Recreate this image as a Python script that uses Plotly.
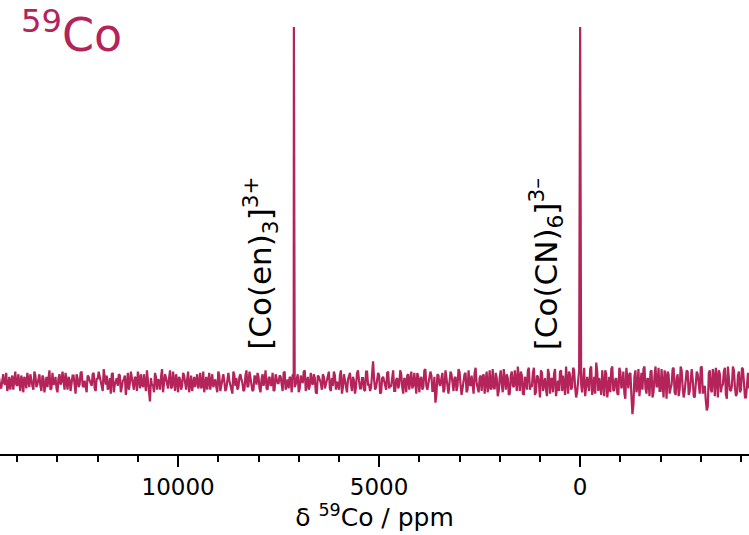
import plotly.graph_objects as go

# ---------------- data ----------------
ppm_start = 14450
ppm_step = 50
# intensities on the 50 ppm grid (ppm_start, ppm_start-50, ...)
noise_a = [
    3,-5,6,-2,-7,4,1,-6,8,-3,-1,5,-8,2,7,-4,0,-6,5,-2,
    6,-7,3,1,-4,9,-5,-2,4,-8,6,0,-3,7,-6,2,-1,5,-9,3,
    -2,8,-4,-6,5,1,-3,7,-7,2,4,-5,10,-2,-6,3,6,-8,1,-3,
    5,-4,2,-10,7,-1,4,-6,3,8,-5,-2,6,-7,1,-15,-3,-8,4,2,
    -6,10,-1,3,-5,9,-4,0,6,-8,2,-3,5,-6,8,-2,-7,4,1,-5,
    7,-3,-8,4,2,-6,6,-1,-4,8,-7,3,0,-5,7,-2,-9,5,3,-4,
    6,-1,-6,9,-3,2,-7,5,-2,4,-8,6,1,-5,3,-3,7,-6,2,-1,
    4,-7,8,-2,-5,3,6,-4,1,-8,5,-1,9,-3,-6,7,-2,3,-9,4,
    -1,6,-5,2,8,-7,-3,5,0,-6,9,-4,2,-8,6,-2,4,-9,7,1,
    -5,3,-7,8,-2,-4,16,-6,2,5,-8,4,-1,7,-5,-3,9,-7,3,-2,
    6,-9,2,5,-6,8,-3,-1,7,-8,4,-4,10,-6,1,5,-7,-16,6,-2,
    3,-8,9,-5,-1,6,-7,4,-3,8,-10,2,7,-6,-2,5,-9,11,-4,3,
    -7,6,1,-8,9,-3,-5,7,-11,4,-2,10,-6,3,-9,8,-4,-1,12,-7,
    5,-10,2,9,-6,-3,11,-8,4,-12,7,-2,-6,10,-9,3,6,-11,1,8,
    -7,-3,12,-9,5,-4,9,-12,2,7,-8,11,-5,-2,10,-10,4,15,-7,-3,
    9,-11,6,-4,-8,12,-6,3,-10,8,-2,-9,11,-5,7,-25,4,-8,10,-3,
    -6,12,-9,2,8,-12,5,-4,11,-7,-2,9,-13,6,-5,10,-8,3,-11,12,
    -4,-7,9,-10,6,2,-12,8,-5,11,-9,-3,-22,7,-6,10,-11,4,9,-8,
    -2,11,-13,5,-7,12,-4,-9,8,-6,10,-12,3,-5,
]
# intensities half way between (ppm_start-25, ppm_start-75, ...)
noise_b = [
    -4,2,-1,7,-3,-6,5,3,-2,6,-7,1,4,-5,-1,6,-3,8,-4,1,
    -3,5,-8,4,2,-6,7,-1,-5,3,-2,8,-6,1,4,-7,5,-2,6,-4,
    7,-3,1,-8,4,-2,6,-5,3,8,-1,-7,2,5,-4,-9,7,-2,3,6,
    -8,1,5,-3,-6,8,-2,4,-7,2,6,-4,-1,9,-5,3,-2,7,-6,1,
    4,-8,6,-2,3,-5,8,-7,1,4,-6,7,-3,2,-8,5,1,-4,6,-2,
    -5,8,-1,-6,7,3,-4,2,-8,5,-2,6,-7,3,1,-5,8,-3,-6,4,
    2,-7,5,-4,8,-1,-6,3,7,-5,2,-3,9,-6,4,-2,-7,6,-1,5,
    -3,7,-6,2,4,-8,3,-2,6,-5,1,8,-7,4,-3,-1,6,-8,5,2,
    -6,4,-2,7,-5,3,8,-6,-1,5,-9,6,-3,2,7,-7,1,-4,9,-5,
    3,-6,8,-2,-7,5,2,-4,7,-9,3,1,-6,8,-3,5,-7,2,-5,9,
    -4,3,-8,6,1,-5,7,-9,4,2,-6,9,-3,-1,8,-7,4,-10,5,-3,
    7,-6,2,-9,8,-4,3,-7,10,-2,-5,6,-8,9,-3,-6,7,-1,-8,5,
    4,-9,8,-2,-6,10,-5,3,-7,9,-8,2,6,-10,5,-3,9,-7,-2,8,
    -9,4,-6,11,-3,7,-10,5,-1,9,-7,3,-11,6,2,-8,10,-4,-7,9,
    5,-10,3,8,-6,11,-4,-8,9,-2,6,-11,4,-7,12,-5,-9,8,3,-10,
    -6,9,-12,4,10,-7,2,-9,11,-5,8,-13,3,6,-10,-18,9,-4,-11,7,
    10,-5,3,-11,9,-8,12,-3,-7,10,-12,4,8,-9,-2,11,-10,6,-6,9,
    -12,5,8,-7,10,-11,3,6,-9,12,-5,-14,-19,9,-8,4,11,-12,6,-3,
    8,-10,12,-6,-3,9,-11,5,-8,11,-4,-12,7,
]
peak_ppm = [7120, 0]
peak_height = [275, 275]
peak_labels = ["[Co(en)<sub>3</sub>]<sup>3+</sup>", "[Co(CN)<sub>6</sub>]<sup>3\u2013</sup>"]
label_ppm = [7950, 850]
tick_vals = [10000, 5000, 0]
tick_text = ["10000", "5000", "0"]

# ---------------- build spectrum ----------------
spec = {}
for i, v in enumerate(noise_a):
    spec[ppm_start - i * ppm_step] = v
for i, v in enumerate(noise_b):
    spec[ppm_start - ppm_step / 2 - i * ppm_step] = v
for p, h in zip(peak_ppm, peak_height):
    spec[p] = h
xs = sorted(spec.keys(), reverse=True)
ys = [spec[k] for k in xs]

COL = "#B4235A"
FONT = "DejaVu Sans"

fig = go.Figure()
fig.add_trace(go.Scatter(x=xs, y=ys, mode="lines",
                         line=dict(color=COL, width=2.2), hoverinfo="skip",
                         showlegend=False))

for txt, xp in zip(peak_labels, label_ppm):
    fig.add_annotation(x=xp, y=23, xref="x", yref="y", text=txt,
                       textangle=-90, showarrow=False, xanchor="center",
                       yanchor="bottom", font=dict(family=FONT, size=31, color="black"))

fig.add_annotation(x=0.025, y=1.0, xref="paper", yref="paper",
                   text="<sup>59</sup>Co", showarrow=False, xanchor="left",
                   yanchor="top", font=dict(family=FONT, size=46, color=COL))

fig.update_layout(
    width=749, height=535,
    margin=dict(l=0, r=0, t=0, b=81),
    paper_bgcolor="white", plot_bgcolor="white",
    font=dict(family=FONT, color="black"),
    xaxis=dict(range=[14430, -4200], showgrid=False, zeroline=False,
               showline=True, linewidth=2, linecolor="black",
               tickmode="array", tickvals=tick_vals, ticktext=tick_text,
               ticks="outside", ticklen=11, tickwidth=2, tickcolor="black",
               tickfont=dict(family=FONT, size=23, color="black"),
               minor=dict(dtick=1000, tick0=0, ticks="outside", ticklen=6,
                          tickwidth=2, tickcolor="black"),
               title=dict(text="\u03b4 <sup>59</sup>Co / ppm", standoff=6,
                          font=dict(family=FONT, size=25, color="black"))),
    yaxis=dict(visible=False, range=[-55.8, 295.9]),
)

fig.write_html("out.html")
